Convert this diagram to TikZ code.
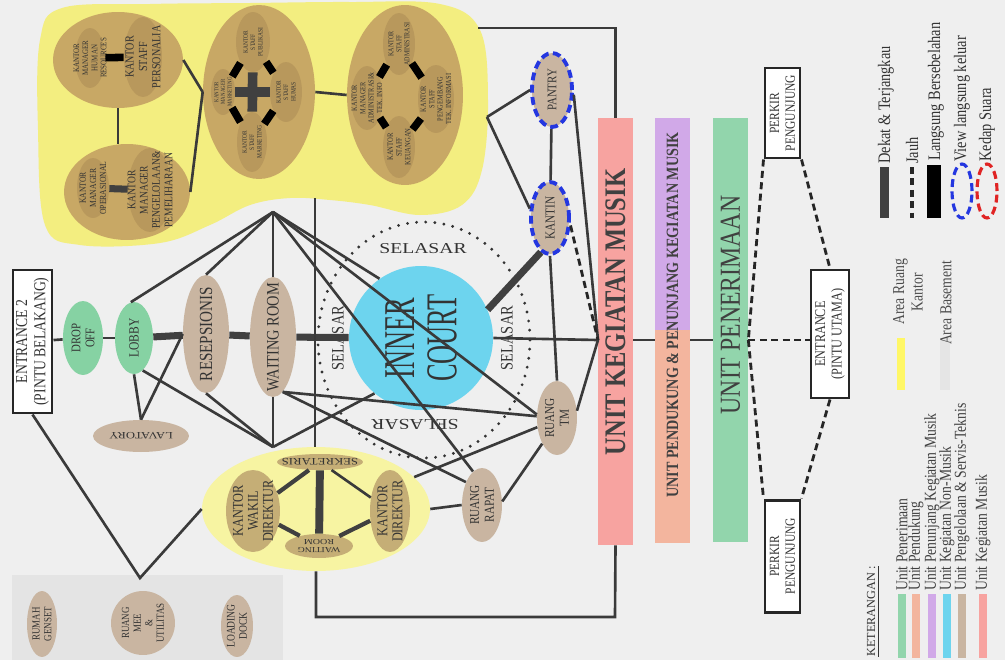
\documentclass[tikz,border=0pt]{standalone}
\usepackage{fontspec}
\setmainfont{Liberation Serif}
\newfontfamily\cnd[FakeStretch=0.82]{Liberation Serif}
\newfontfamily\wid[FakeStretch=1.3]{Liberation Serif}
\newfontfamily\cnx[FakeStretch=0.6]{Liberation Serif}
\usetikzlibrary{shapes.geometric,calc}
\newcommand\fs[2]{\fontsize{#1}{#2}\selectfont}
\definecolor{bg}{HTML}{EFEFEF}
\definecolor{yel}{HTML}{F3EE80}
\definecolor{tanC}{HTML}{C8A865}
\definecolor{tanI}{HTML}{B8985C}
\definecolor{room}{HTML}{C9B5A1}
\definecolor{grn}{HTML}{86D2A3}
\definecolor{cyn}{HTML}{6DD4EE}
\definecolor{pinkbar}{HTML}{F7A3A0}
\definecolor{purp}{HTML}{D1A9E8}
\definecolor{salm}{HTML}{F3B59E}
\definecolor{grnbar}{HTML}{92D5AC}
\definecolor{dyel}{HTML}{F7F4A2}
\definecolor{dtan}{HTML}{C5AE76}
\definecolor{cline}{HTML}{3A3A3A}
\definecolor{dg}{HTML}{404040}
\definecolor{blu}{HTML}{2437E0}
\definecolor{rd}{HTML}{E02424}
\definecolor{basem}{HTML}{E4E4E4}
\definecolor{tx}{HTML}{333333}
\begin{document}
\begin{tikzpicture}[x=0.02cm,y=-0.02cm,
  el/.style={ellipse, inner sep=0pt, draw=none},
  sz/.style 2 args={minimum width=#1*0.04cm, minimum height=#2*0.04cm},
  vt/.style={rotate=90, align=center, text=tx, inner sep=0pt},
  ud/.style={rotate=180, align=center, text=tx, inner sep=0pt},
  conn/.style={draw=cline, line width=1.5pt},
  dekat/.style={draw=dg, line width=4pt},
  lang/.style={draw=black, line width=4.3pt},
  jauh/.style={draw=black!85, line width=1.6pt, dash pattern=on 4pt off 2.5pt},
  viewb/.style={draw=blu, line width=2.2pt, dash pattern=on 4.5pt off 2.5pt},
  box/.style={rectangle, draw=black!85, line width=1.7pt, fill=white, inner sep=0pt},
  bar/.style={rectangle, inner sep=0pt, draw=none}
]
\useasboundingbox (0,0) rectangle (1005,660);
\fill[bg] (0,0) rectangle (1005,660);
% office area
\fill[yel] plot[smooth cycle, tension=0.6] coordinates {(40,40) (62,8) (150,4) (250,3) (350,2) (440,4) (480,30) (488,100) (482,170) (462,205) (420,215) (370,205) (330,200) (290,198) (250,205) (210,225) (160,243) (80,245) (45,225) (38,130)};
% basement area
\fill[basem] (12,575) rectangle (283,660);
% selasar ring
\draw[draw=black!80, line width=1.8pt, dash pattern=on 0pt off 5.2pt, line cap=round] (424,340) ellipse (106 and 118);

% clusters
\node[el, sz={65}{48}, fill=tanC] (chr) at (118,60) {};
\node[el, sz={63}{48}, fill=tanC] (cop) at (127,192) {};
\node[el, sz={56}{87}, fill=tanC] (cmk) at (259,92) {};
\node[el, sz={58}{90}, fill=tanC] (cad) at (405,95) {};
\node[el, sz={15}{30}, fill=tanI] (hrm) at (90,58) {};
\node[el, sz={19}{40}, fill=tanI] (pers) at (143,57) {};
\node[el, sz={16}{30}, fill=tanI] (opm) at (93,188) {};
\node[el, sz={22}{42}, fill=tanI] (pmp) at (150,190) {};
\node[el, sz={17}{30}, fill=tanI] (pub) at (253,42) {};
\node[el, sz={16}{30}, fill=tanI] (hum) at (286,92) {};
\node[el, sz={12}{23}, fill=tanI] (mm) at (223,92) {};
\node[el, sz={15}{30}, fill=tanI] (sm) at (252,142) {};
\node[el, sz={16}{31}, fill=tanI] (sa) at (399,44) {};
\node[el, sz={16}{32}, fill=tanI] (ma) at (367,98) {};
\node[el, sz={18}{34}, fill=tanI] (sp) at (436,99) {};
\node[el, sz={16}{31}, fill=tanI] (sk) at (399,147) {};

% director cluster
\node[el, sz={114}{62}, fill=dyel] (cdir) at (316,509) {};
\node[el, sz={43}{8}, fill=dtan] (sek) at (320,462) {};
\node[el, sz={27}{41}, fill=dtan] (wakil) at (253,511) {};
\node[el, sz={34}{12}, fill=dtan] (wr2) at (319,546) {};
\node[el, sz={20}{41}, fill=dtan] (dir) at (390,511) {};

% rooms
\node[el, sz={20}{37}, fill=grn] (drop) at (83,338) {};
\node[el, sz={19}{36}, fill=grn] (lobby) at (134,338) {};
\node[el, sz={23}{59}, fill=room] (resep) at (206,334) {};
\node[el, sz={23}{60}, fill=room] (wait) at (273,337) {};
\node[el, sz={48}{16}, fill=room] (lav) at (141,436) {};
\node[el, sz={20}{37}, fill=room] (tm) at (557,418) {};
\node[el, sz={20}{37}, fill=room] (rapat) at (482,505) {};
\node[el, sz={20}{37}, fill=room, viewb] (pantry) at (552,90) {};
\node[el, sz={19}{36}, fill=room, viewb] (kantin) at (550,218) {};
\node[el, sz={15}{33}, fill=room] (genset) at (42,624) {};
\node[el, sz={32}{32}, fill=room] (mee) at (143,623) {};
\node[el, sz={16}{31}, fill=room] (dock) at (237,626) {};
\node[circle, inner sep=0pt, minimum size=144*0.02cm, fill=cyn] (court) at (421,338) {};

% unit bars
\node[bar, fill=pinkbar, minimum width=35*0.02cm, minimum height=427*0.02cm] (ukm) at (615.5,331.5) {};
\fill[purp] (655,118) rectangle (690,330);
\fill[salm] (655,330) rectangle (690,543);
\node[bar, minimum width=35*0.02cm, minimum height=425*0.02cm] (upkm) at (672.5,330.5) {};
\node[bar, fill=grnbar, minimum width=35*0.02cm, minimum height=424*0.02cm] (upn) at (730.5,330) {};

% boxes
\node[box, minimum width=39*0.02cm, minimum height=143*0.02cm] (ent2) at (32.5,341.5) {};
\node[box, minimum width=38*0.02cm, minimum height=128*0.02cm] (ent) at (830,334) {};
\node[box, minimum width=35*0.02cm, minimum height=90*0.02cm] (pk1) at (782.5,113) {};
\node[box, minimum width=35*0.02cm, minimum height=112*0.02cm] (pk2) at (782.5,556) {};

% texts
\node[vt, font=\cnd\fs{4.8}{5.2}] (hrm-t) at (hrm) {KANTOR\\MANAGER\\HUMAN\\RESOURCES};
\node[vt, font=\cnd\fs{7}{7.6}] (pers-t) at (pers) {KANTOR\\STAFF\\PERSONALIA};
\node[vt, font=\cnd\fs{5.3}{5.8}] (opm-t) at (opm) {KANTOR\\MANAGER\\OPERASIONAL};
\node[vt, font=\cnd\fs{6.6}{7}] (pmp-t) at (pmp) {KANTOR\\MANAGER\\PENGELOLAAN\&\\PEMELIHARAAN};
\node[vt, font=\cnd\fs{3.8}{4.2}] (pub-t) at (pub) {KANTOR\\STAFF\\PUBLIKASI};
\node[vt, font=\cnd\fs{3.8}{4.2}] (hum-t) at (hum) {KANTOR\\STAFF\\HUMAS};
\node[vt, font=\cnd\fs{3.4}{3.8}] (mm-t) at (mm) {KANTOR\\MANAGER\\MARKETING};
\node[vt, font=\cnd\fs{3.8}{4.2}] (sm-t) at (sm) {KANTOR\\STAFF\\MARKETING};
\node[vt, font=\cnd\fs{4.2}{4.6}] (sa-t) at (sa) {KANTOR\\STAFF\\ADMINISTRASI};
\node[vt, font=\cnd\fs{4.4}{4.8}] (ma-t) at (ma) {KANTOR\\MANAGER\\ADMINISTRASI\&\\TEK. INFO};
\node[vt, font=\cnd\fs{4.4}{4.8}] (sp-t) at (sp) {KANTOR\\STAFF\\PENGEMBANG\\TEK. INFORMASI};
\node[vt, font=\cnd\fs{4.6}{5}] (sk-t) at (sk) {KANTOR\\STAFF\\KEUANGAN};
\node[ud, font=\wid\fs{5.6}{6}] (sek-t) at (sek) {SEKRETARIS};
\node[vt, font=\cnd\fs{8.5}{8.6}] (wakil-t) at (wakil) {KANTOR\\WAKIL\\DIREKTUR};
\node[ud, font=\wid\fs{4.4}{4.6}] (wr2-t) at (wr2) {WAITING\\ROOM};
\node[vt, font=\cnd\fs{8.5}{8.6}] (dir-t) at (dir) {KANTOR\\DIREKTUR};
\node[vt, font=\cnd\fs{7.5}{8}] (drop-t) at (drop) {DROP\\OFF};
\node[vt, font=\cnd\fs{8}{8.5}] (lobby-t) at (lobby) {LOBBY};
\node[vt, font=\cnd\fs{10.5}{11}] (resep-t) at (resep) {RESEPSIONIS};
\node[vt, font=\cnd\fs{10}{11}] (wait-t) at (wait) {WAITING ROOM};
\node[ud, font=\wid\fs{5.5}{6}] (lav-t) at (lav) {LAVATORY};
\node[vt, font=\cnd\fs{7.8}{8.3}] (tm-t) at (tm) {RUANG\\TM};
\node[vt, font=\cnd\fs{7.8}{8.3}] (rapat-t) at (rapat) {RUANG\\RAPAT};
\node[vt, font=\cnd\fs{7.5}{8}] (pantry-t) at (pantry) {PANTRY};
\node[vt, font=\cnd\fs{7.8}{8}] (kantin-t) at (kantin) {KANTIN};
\node[vt, font=\cnd\fs{6.2}{6.6}] (genset-t) at (genset) {RUMAH\\GENSET};
\node[vt, font=\cnd\fs{6.2}{6.6}] (mee-t) at (mee) {RUANG\\MEE\\\&\\UTILITAS};
\node[vt, font=\cnd\fs{6.6}{7}] (dock-t) at (dock) {LOADING\\DOCK};
\node[vt, font=\cnx\fs{25}{24}, text=black!80] (court-t) at (court) {INNER\\COURT};
\node[font=\wid\fs{8.6}{9}, text=tx, inner sep=0pt] (sel1) at (423,249) {SELASAR};
\node[vt, font=\cnd\fs{10}{10}] (sel2) at (338,338) {SELASAR};
\node[vt, font=\cnd\fs{10}{10}] (sel3) at (507,338) {SELASAR};
\node[ud, font=\wid\fs{8.6}{9}] (sel4) at (415,424) {SELASAR};
\node[vt, font=\cnd\bfseries\fs{17}{18}, text=black!75] (ukm-t) at (615.5,312) {UNIT KEGIATAN MUSIK};
\node[vt, font=\cnd\bfseries\fs{9.8}{10}, text=black!75] (upkm-t) at (672.5,315) {UNIT PENDUKUNG \& PENUNJANG KEGIATAN MUSIK};
\node[vt, font=\cnd\fs{16.5}{18}, text=black!75] (upn-t) at (730.5,305) {UNIT PENERIMAAN};
\node[vt, font=\cnd\fs{9.5}{10.5}] (ent2-t) at (ent2) {ENTRANCE 2\\(PINTU BELAKANG)};
\node[vt, font=\cnd\fs{8.5}{9.5}] (ent-t) at (ent) {ENTRANCE\\(PINTU UTAMA)};
\node[vt, font=\cnd\fs{8}{9}] (pk1-t) at (pk1) {PERKIR\\PENGUNJUNG};
\node[vt, font=\cnd\fs{8}{9}] (pk2-t) at (pk2) {PERKIR\\PENGUNJUNG};

% free ends of connectors
\coordinate (T) at (273,212);
\coordinate (B) at (273,447);
\coordinate (V) at (487,117);
\coordinate (J) at (598,340);
\coordinate (W) at (140,578);
\coordinate (M) at (315,198);
\coordinate (A1) at (478,28);
\coordinate (C2) at (615,617);

% office connectors
\draw[conn] (chr.east) -- (cmk.west);
\draw[conn] (cop.east) -- (cmk.west);
\draw[conn] (chr.south) -- (chr.south |- cop.north);
\draw[conn] (cmk.east) -- (cad.west);
\draw[lang] (hrm) -- (pers);
\draw[dekat] (opm) -- (pmp);
\draw[lang] (mm) -- (pub);
\draw[lang] (pub) -- (hum);
\draw[lang] (hum) -- (sm);
\draw[lang] (sm) -- (mm);
\draw[dg, line width=5.5pt] (mm) -- (hum);
\draw[dg, line width=5.5pt] (pub) -- (sm);
\draw[lang] (ma) -- (sa);
\draw[lang] (sa) -- (sp);
\draw[lang] (sp) -- (sk);
\draw[lang] (sk) -- (ma);
\draw[conn] (A1) -| (ukm.north);
\draw[conn] (V) -- (pantry.west);
\draw[conn] (V) -- (kantin.155);
\draw[conn] (pantry) -- (kantin);

% main axis
\draw[conn] (ent2) -- (drop);
\draw[conn] (drop) -- (lobby);
\draw[dekat] (lobby) -- (resep);
\draw[dekat] (resep) -- (wait);
\draw[dekat] (wait) -- (court);
\draw[dekat] (court.23) -- (kantin.-105);
\draw[conn] (court.east) -- (J);
\draw[conn] (pantry.-12) -- (J);
\draw[jauh] (kantin.-20) -- (J);
\draw[conn] (tm.20) -- (J);
\draw[conn] (kantin.south) -- (tm.north);
\draw[conn] (J -| ukm.east) -- (J -| upkm.west);
\draw[conn] (J -| upkm.east) -- (J -| upn.west);
\draw[jauh] (J -| upn.east) -- (J -| ent.west);
\draw[jauh] (pk1.south west) -- (J -| upn.east);
\draw[jauh] (J -| upn.east) -- (pk2.north west);
\draw[jauh] (pk1.south east) -- (ent.north);
\draw[jauh] (ent.south) -- (pk2.north east);

% hub T
\draw[conn] (T) -- (lobby.95);
\draw[conn] (T) -- (resep.north);
\draw[conn] (T) -- (wait.north);
\draw[conn] (T) -- (court.125);
\draw[conn] (T) -- (tm.170);
\draw[conn] (T) -- (rapat.105);
% hub B
\draw[conn] (B) -- (lobby.-75);
\draw[conn] (B) -- (resep.south);
\draw[conn] (B) -- (wait.south);
\draw[conn] (B) -- (court.230);
\draw[conn] (lobby.south) -- (lav.north);
\draw[conn] (lav.north) -- (resep.west);
\draw[conn] (wait.-80) -- (tm.175);
\draw[conn] (wait.-80) -- (rapat.125);
\draw[conn] (M) -- (M |- cdir.north);
\draw[conn] (cdir.east) -- (rapat.west);
\draw[conn] (cdir.18) -- (tm.205);
\draw[conn] (rapat.10) -- (tm.240);
\draw[conn] (cdir.south) |- (C2) -- (ukm.south);
\draw[conn] (ent2.south) -- (W) -- (cdir.west);
% director cluster internal
\draw[dg, line width=2.4pt] (wakil) -- (sek);
\draw[conn] (sek) -- (dir);
\draw[dg, line width=2.4pt] (wakil) -- (wr2);
\draw[dg, line width=2.4pt] (wr2) -- (dir);
\draw[dg, line width=4.5pt] (sek) -- (wr2);

% legend
\node[bar, fill=dg, minimum width=9*0.02cm, minimum height=51*0.02cm] (lg1) at (884.5,192.5) {};
\draw[jauh, line width=1.8pt] (912,167) coordinate (lg2a) -- (912,218) coordinate (lg2b);
\node[bar, fill=black, minimum width=14*0.02cm, minimum height=53*0.02cm] (lg3) at (934,191.5) {};
\node[el, sz={10}{27}, viewb, line width=1.8pt] (lg4) at (962,191) {};
\node[el, sz={10}{27}, draw=rd, line width=1.8pt, dash pattern=on 4.5pt off 2.5pt] (lg5) at (987,191) {};
\node[vt, anchor=west, font=\cnd\fs{10}{11}] (lg1-t) at (886,164) {Dekat \& Terjangkau};
\node[vt, anchor=west, font=\cnd\fs{10}{11}] (lg2-t) at (912,164) {Jauh};
\node[vt, anchor=west, font=\cnd\fs{10}{11}] (lg3-t) at (936,161) {Langsung Bersebelahan};
\node[vt, anchor=west, font=\cnd\fs{10}{11}] (lg4-t) at (962,162) {View langsung keluar};
\node[vt, anchor=west, font=\cnd\fs{10}{11}] (lg5-t) at (987,162) {Kedap Suara};
\node[bar, fill=yellow!60, minimum width=8*0.02cm, minimum height=52*0.02cm] (lgy) at (901,364) {};
\node[bar, fill=black!10, minimum width=10*0.02cm, minimum height=52*0.02cm] (lgg) at (945,364) {};
\node[vt, font=\cnd\fs{9.5}{10.5}, text=black!70] (lgy-t) at (908,292) {Area Ruang\\Kantor};
\node[vt, font=\cnd\fs{9.5}{10.5}, text=black!70] (lgg-t) at (946,303) {Area Basement};
\node[vt, anchor=west, font=\fs{7}{8}] (ket) at (873,657) {\underline{KETERANGAN :}};
\foreach \xx/\cc/\tt [count=\i] in {902/grnbar/Unit Penerimaan, 916/salm/Unit Pendukung, 932/purp/Unit Penunjang Kegiatan Musik, 947/cyn/Unit Kegiatan Non-Musik, 962/room/Unit Pengelolaan \& Servis-Teknis, 983/pinkbar/Unit Kegiatan Musik}{
  \node[bar, fill=\cc, minimum width=8*0.02cm, minimum height=64*0.02cm] (sw\i) at (\xx,626) {};
  \node[vt, anchor=west, font=\cnd\fs{9.5}{10.5}, text=black!75] (sw\i-t) at (\xx,591) {\tt};
}
\end{tikzpicture}
\end{document}
